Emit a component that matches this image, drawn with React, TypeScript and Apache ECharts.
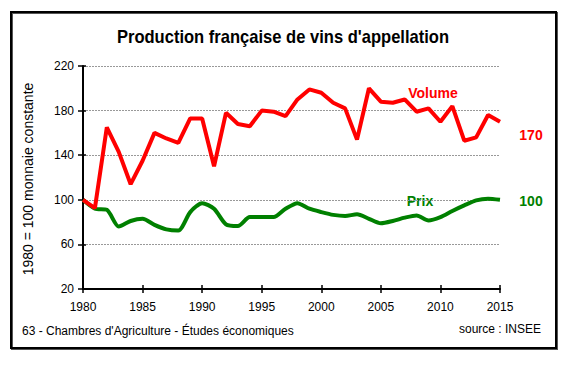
import React, { useEffect, useRef } from "react";
import * as echarts from "echarts";

const years = [1980, 1981, 1982, 1983, 1984, 1985, 1986, 1987, 1988, 1989, 1990, 1991, 1992, 1993, 1994, 1995, 1996, 1997, 1998, 1999, 2000, 2001, 2002, 2003, 2004, 2005, 2006, 2007, 2008, 2009, 2010, 2011, 2012, 2013, 2014, 2015];
const volume = [100, 92.5, 165, 143, 114, 135, 160, 155, 151, 173, 173, 130, 178, 168, 166, 180, 179, 175, 190, 199, 196, 187, 182, 154, 200, 188, 187, 190, 179, 182, 170, 184, 153, 156, 176, 170];
const prix = [100, 92, 91, 76, 81, 83, 77.5, 73.5, 72.5, 89, 97, 92, 78, 76.5, 84.5, 84.5, 84.5, 92, 97, 92, 89, 86.5, 85.5, 87, 83, 79, 81, 84, 86, 81.5, 84.5, 90, 95, 99.5, 101, 100];

const title = "Production française de vins d'appellation";
const yName = "1980 = 100 monnaie constante";
const footLeft = "63 - Chambres d'Agriculture - Études économiques";
const footRight = "source : INSEE";
const volumeLabel = "Volume";
const prixLabel = "Prix";
const volumeEnd = "170";
const prixEnd = "100";

const RED = "#ff0000";
const GREEN = "#008000";
const FONT = "'Liberation Sans', Arial, sans-serif";

export default function App() {
  const ref = useRef<HTMLDivElement>(null);
  useEffect(() => {
    if (!ref.current) return;
    const chart = echarts.init(ref.current, null, { renderer: "svg" });
    const xBase = {
      type: "value",
      min: 1980,
      max: 2015,
      interval: 5,
      position: "bottom",
      splitLine: { show: false },
    };
    const yBase = {
      type: "value",
      min: 20,
      max: 220,
      interval: 40,
      position: "left",
    };
    chart.setOption({
      animation: false,
      backgroundColor: "#ffffff",
      grid: { left: 83, right: 69, top: 66, bottom: 77 },
      xAxis: [
        {
          ...xBase,
          axisLine: { show: true, lineStyle: { color: "#000", width: 2 } },
          axisTick: { show: true, inside: false, length: 4, lineStyle: { color: "#000", width: 1.5 } },
          axisLabel: { color: "#000", fontSize: 12, fontFamily: FONT, margin: 12, formatter: (v: number) => String(v) },
        },
        {
          ...xBase,
          axisLine: { show: false },
          axisTick: { show: true, inside: true, length: 4, lineStyle: { color: "#000", width: 1.5 } },
          axisLabel: { show: false },
        },
      ],
      yAxis: [
        {
          ...yBase,
          axisLine: { show: true, lineStyle: { color: "#000", width: 2 } },
          axisTick: { show: true, inside: false, length: 5, lineStyle: { color: "#000", width: 1.5 } },
          axisLabel: { color: "#000", fontSize: 12, fontFamily: FONT, margin: 9 },
          splitLine: { show: true, lineStyle: { color: "#999", width: 1, type: [2, 1] } },
        },
        {
          ...yBase,
          axisLine: { show: false },
          axisTick: { show: true, inside: true, length: 3, lineStyle: { color: "#000", width: 1.5 } },
          axisLabel: { show: false },
          splitLine: { show: false },
        },
      ],
      series: [
        {
          name: "Prix",
          type: "line",
          data: years.map((y, i) => [y, prix[i]]),
          showSymbol: false,
          smooth: 0.25,
          lineStyle: { color: GREEN, width: 4 },
          z: 2,
        },
        {
          name: "Volume",
          type: "line",
          data: years.map((y, i) => [y, volume[i]]),
          showSymbol: false,
          lineStyle: { color: RED, width: 4 },
          z: 3,
        },
      ],
      graphic: [
        {
          type: "rect",
          shape: { x: 12, y: 13, width: 545, height: 336 },
          style: { fill: "none", stroke: "#555", lineWidth: 2 },
          silent: true,
          z: -1,
        },
        {
          type: "rect",
          shape: { x: 11, y: 12, width: 545, height: 336 },
          style: { fill: "none", stroke: "#000", lineWidth: 2 },
          silent: true,
        },
        {
          type: "text",
          x: 283,
          y: 37,
          scaleX: 0.92,
          style: { text: title, font: `bold 18px ${FONT}`, fill: "#000", align: "center", verticalAlign: "middle" },
        },
        {
          type: "text",
          x: 28,
          y: 179,
          rotation: Math.PI / 2,
          style: { text: yName, font: `14px ${FONT}`, fill: "#000", align: "center", verticalAlign: "middle" },
        },
        {
          type: "text",
          x: 22,
          y: 331,
          style: { text: footLeft, font: `12px ${FONT}`, fill: "#000", align: "left", verticalAlign: "middle" },
        },
        {
          type: "text",
          x: 541,
          y: 329,
          style: { text: footRight, font: `12px ${FONT}`, fill: "#000", align: "right", verticalAlign: "middle" },
        },
        {
          type: "text",
          x: 433,
          y: 93,
          style: { text: volumeLabel, font: `bold 14px ${FONT}`, fill: RED, align: "center", verticalAlign: "middle" },
        },
        {
          type: "text",
          x: 420,
          y: 201,
          style: { text: prixLabel, font: `bold 14px ${FONT}`, fill: GREEN, align: "center", verticalAlign: "middle" },
        },
        {
          type: "text",
          x: 531,
          y: 135,
          style: { text: volumeEnd, font: `bold 14px ${FONT}`, fill: RED, align: "center", verticalAlign: "middle" },
        },
        {
          type: "text",
          x: 531,
          y: 201,
          style: { text: prixEnd, font: `bold 14px ${FONT}`, fill: GREEN, align: "center", verticalAlign: "middle" },
        },
      ],
    });
    return () => chart.dispose();
  }, []);
  return (
    <div
      ref={ref}
      style={{ position: "absolute", left: 0, top: 0, width: 569, height: 366 }}
    />
  );
}
